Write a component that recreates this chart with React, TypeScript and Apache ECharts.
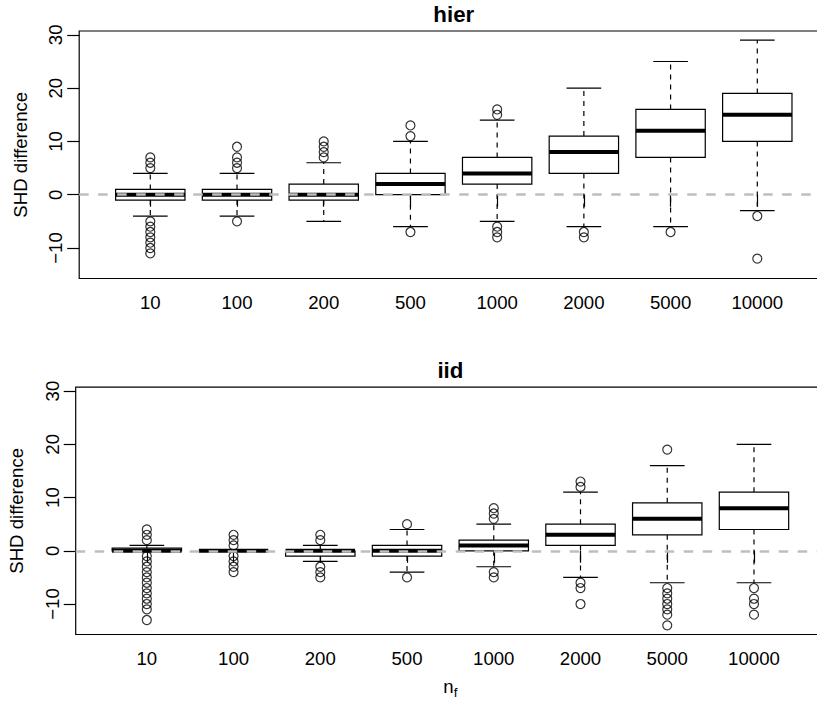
import React, { useEffect, useRef } from "react";
import * as echarts from "echarts";

// n_f categories
const categories = ["10", "100", "200", "500", "1000", "2000", "5000", "10000"];
const yTicks = [-10, 0, 10, 20, 30];

// [lower whisker, Q1, median, Q3, upper whisker]
const hierStats = [
  [-4, -1, 0, 1, 4],
  [-4, -1, 0, 1, 4],
  [-5, -1, 0, 2, 6],
  [-6, 0, 2, 4, 10],
  [-5, 2, 4, 7, 14],
  [-6, 4, 8, 11, 20],
  [-6, 7, 12, 16, 25],
  [-3, 10, 15, 19, 29],
];
const hierOutliers = [
  [5, 6, 7, -5, -6, -7, -8, -9, -10, -11],
  [5, 6, 7, 9, -5],
  [7, 8, 9, 10],
  [11, 13, -7],
  [15, 16, -6, -7, -8],
  [-7, -8],
  [-7],
  [-4, -12],
];

const iidStats = [
  [0, 0, 0, 0.5, 1],
  [0, 0, 0, 0, 0],
  [-2, -1, 0, 0, 1],
  [-4, -1, 0, 1, 4],
  [-3, 0, 1, 2, 5],
  [-5, 1, 3, 5, 11],
  [-6, 3, 6, 9, 16],
  [-6, 4, 8, 11, 20],
];
const iidOutliers = [
  [2, 3, 4, -1, -2, -3, -4, -5, -6, -7, -8, -9, -10, -11, -13],
  [1, 2, 3, -1, -2, -3, -4],
  [2, 3, -3, -4, -5],
  [5, -5],
  [6, 7, 8, -4, -5],
  [12, 13, -6, -7, -10],
  [19, -7, -8, -9, -10, -11, -12, -14],
  [-7, -9, -10, -12],
];

const FONT = "'Liberation Sans', Arial, Helvetica, sans-serif";
const TICK_FS = 18.6;

function renderBox(params: any, api: any) {
  const x = api.value(0);
  const lo = api.value(1);
  const q1 = api.value(2);
  const med = api.value(3);
  const q3 = api.value(4);
  const hi = api.value(5);
  const halfBox = api.size([0.8, 0])[0] / 2;
  const halfStaple = api.size([0.4, 0])[0] / 2;
  const pLo = api.coord([x, lo]);
  const pQ1 = api.coord([x, q1]);
  const pMed = api.coord([x, med]);
  const pQ3 = api.coord([x, q3]);
  const pHi = api.coord([x, hi]);
  const cx = pMed[0];
  const thin = { stroke: "#000", lineWidth: 1.2 };
  return {
    type: "group",
    children: [
      {
        type: "line",
        shape: { x1: cx, y1: pQ3[1], x2: cx, y2: pHi[1] },
        style: { ...thin, lineDash: [5, 5] },
      },
      {
        type: "line",
        shape: { x1: cx, y1: pQ1[1], x2: cx, y2: pLo[1] },
        style: { ...thin, lineDash: [5, 5] },
      },
      {
        type: "line",
        shape: { x1: cx - halfStaple, y1: pHi[1], x2: cx + halfStaple, y2: pHi[1] },
        style: thin,
      },
      {
        type: "line",
        shape: { x1: cx - halfStaple, y1: pLo[1], x2: cx + halfStaple, y2: pLo[1] },
        style: thin,
      },
      {
        type: "rect",
        shape: { x: cx - halfBox, y: pQ3[1], width: halfBox * 2, height: pQ1[1] - pQ3[1] },
        style: { fill: "#fff", stroke: "#000", lineWidth: 1.2 },
      },
      {
        type: "line",
        shape: { x1: cx - halfBox, y1: pMed[1], x2: cx + halfBox, y2: pMed[1] },
        style: { stroke: "#000", lineWidth: 4 },
      },
    ],
  };
}

function makeAxes(idx: number, withName: boolean) {
  const xAxis: any = {
    type: "value",
    gridIndex: idx,
    min: 0.18,
    max: 8.82,
    axisLine: { show: false },
    splitLine: { show: false },
    axisTick: {
      show: true,
      length: 12,
      customValues: categories.map((_, i) => i + 1),
      lineStyle: { color: "#000", width: 1.2 },
    },
    axisLabel: {
      show: true,
      customValues: categories.map((_, i) => i + 1),
      formatter: (v: number) => categories[Math.round(v) - 1],
      margin: 14,
      fontSize: TICK_FS,
      color: "#000",
      fontFamily: FONT,
    },
  };
  if (withName) {
    xAxis.name = "{n|n}{f|f}";
    xAxis.nameLocation = "middle";
    xAxis.nameGap = 39;
    xAxis.nameTextStyle = {
      fontFamily: FONT,
      color: "#000",
      rich: {
        n: { fontSize: TICK_FS, lineHeight: 26, fontFamily: FONT, color: "#000" },
        f: { fontSize: 13.5, lineHeight: 13.5, verticalAlign: "bottom", fontFamily: FONT, color: "#000" },
      },
    };
  }
  const yAxis: any = {
    type: "value",
    gridIndex: idx,
    min: -15.72,
    max: 30.72,
    name: "SHD difference",
    nameLocation: "middle",
    nameRotate: 90,
    nameGap: 49.5,
    nameTextStyle: { fontSize: TICK_FS, color: "#000", fontFamily: FONT },
    axisLine: { show: false },
    splitLine: { show: false },
    axisTick: {
      show: true,
      length: 12,
      customValues: yTicks,
      lineStyle: { color: "#000", width: 1.2 },
    },
    axisLabel: {
      show: true,
      customValues: yTicks,
      rotate: 90,
      margin: 14,
      fontSize: TICK_FS,
      color: "#000",
      fontFamily: FONT,
      formatter: (v: number) => (v < 0 ? "\u2212" + Math.abs(v) : String(v)),
    },
  };
  return { xAxis, yAxis };
}

function makeSeries(idx: number, stats: number[][], outliers: number[][]) {
  return [
    {
      type: "custom",
      xAxisIndex: idx,
      yAxisIndex: idx,
      z: 3,
      renderItem: renderBox,
      encode: { x: 0, y: [1, 2, 3, 4, 5] },
      data: stats.map((s, i) => [i + 1, ...s]),
    },
    {
      type: "scatter",
      xAxisIndex: idx,
      yAxisIndex: idx,
      z: 4,
      symbol: "circle",
      symbolSize: 9,
      itemStyle: { color: "rgba(0,0,0,0)", borderColor: "#000", borderWidth: 1.2 },
      data: outliers.flatMap((arr, i) => arr.map((v) => [i + 1, v])),
      markLine: {
        silent: true,
        symbol: "none",
        label: { show: false },
        lineStyle: { color: "#bebebe", width: 2.5, type: [9.5, 9.5] },
        data: [{ yAxis: 0 }],
      },
    },
  ];
}

export default function App() {
  const ref = useRef<HTMLDivElement>(null);
  useEffect(() => {
    if (!ref.current) return;
    const chart = echarts.init(ref.current, null, { renderer: "svg" });
    const a0 = makeAxes(0, false);
    const a1 = makeAxes(1, true);
    chart.setOption({
      animation: false,
      backgroundColor: "#fff",
      textStyle: { fontFamily: FONT },
      title: [
        {
          text: "hier",
          left: 453.8,
          top: 3.8,
          textAlign: "center",
          padding: 0,
          textStyle: { fontSize: 22.3, fontWeight: "bold", color: "#000", fontFamily: FONT },
        },
        {
          text: "iid",
          left: 450.4,
          top: 359.3,
          textAlign: "center",
          padding: 0,
          textStyle: { fontSize: 22.3, fontWeight: "bold", color: "#000", fontFamily: FONT },
        },
      ],
      grid: [
        { left: 79.2, top: 31, width: 749.2, height: 247.5, show: true, borderColor: "#000", borderWidth: 1.2, backgroundColor: "transparent", containLabel: false, outerBoundsMode: "none" },
        { left: 75.7, top: 387.2, width: 749.4, height: 247.3, show: true, borderColor: "#000", borderWidth: 1.2, backgroundColor: "transparent", containLabel: false, outerBoundsMode: "none" },
      ],
      xAxis: [a0.xAxis, a1.xAxis],
      yAxis: [a0.yAxis, a1.yAxis],
      series: [...makeSeries(0, hierStats, hierOutliers), ...makeSeries(1, iidStats, iidOutliers)],
    });
    return () => chart.dispose();
  }, []);
  return (
    <div
      ref={ref}
      style={{ position: "absolute", left: 0, top: 0, width: 817, height: 704, background: "#fff" }}
    />
  );
}
